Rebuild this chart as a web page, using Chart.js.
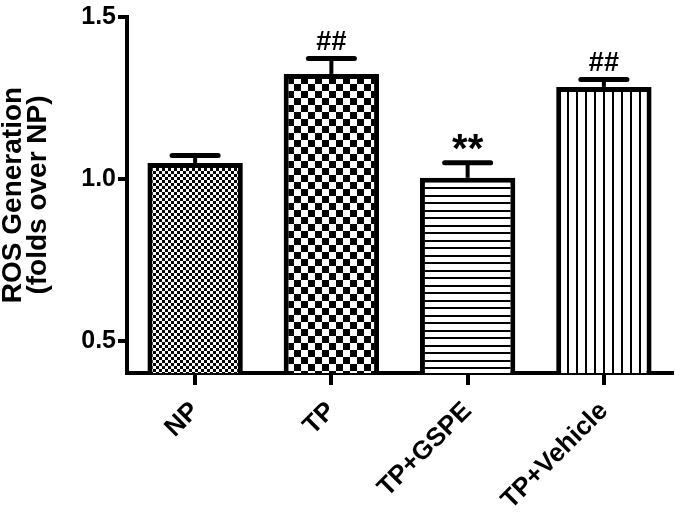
<!DOCTYPE html>
<html>
<head>
<meta charset="utf-8">
<script src="https://cdn.jsdelivr.net/npm/chart.js@4"></script>
<style>
html,body{margin:0;padding:0;background:#fff;}
#wrap{width:675px;height:513px;position:relative;}
</style>
</head>
<body>
<div id="wrap"><canvas id="c" width="675" height="513"></canvas></div>
<script>
const categories = ['NP', 'TP', 'TP+GSPE', 'TP+Vehicle'];
const values = [1.049, 1.324, 1.003, 1.284];
const errors = [0.023, 0.048, 0.047, 0.023];
const marks = ['', '##', '**', '##'];
const yTicks = [0.5, 1.0, 1.5];
const yTitle = ['ROS Generation', '(folds over NP)'];

const FONT = "'Liberation Sans', Arial, sans-serif";

function makePattern(type) {
  const c = document.createElement('canvas');
  const g = c.getContext('2d');
  if (type === 'fine') {
    c.width = 6; c.height = 6;
    g.fillStyle = '#fff'; g.fillRect(0, 0, 6, 6);
    g.fillStyle = '#000'; g.fillRect(0, 0, 3, 3); g.fillRect(3, 3, 3, 3);
  } else if (type === 'coarse') {
    c.width = 14; c.height = 14;
    g.fillStyle = '#fff'; g.fillRect(0, 0, 14, 14);
    g.fillStyle = '#000'; g.fillRect(0, 0, 7, 7); g.fillRect(7, 7, 7, 7);
  } else if (type === 'hlines') {
    c.width = 4; c.height = 15;
    g.fillStyle = '#fff'; g.fillRect(0, 0, 4, 15);
    g.fillStyle = '#000'; g.fillRect(0, 0, 4, 2); g.fillRect(0, 7, 4, 2);
  } else {
    c.width = 9; c.height = 4;
    g.fillStyle = '#fff'; g.fillRect(0, 0, 9, 4);
    g.fillStyle = '#000'; g.fillRect(0, 0, 2, 4);
  }
  return document.getElementById('c').getContext('2d').createPattern(c, 'repeat');
}
const fills = [makePattern('fine'), makePattern('coarse'), makePattern('hlines'), makePattern('vlines')];

const errorPlugin = {
  id: 'errs',
  afterDatasetsDraw(chart) {
    const ctx = chart.ctx;
    const meta = chart.getDatasetMeta(0);
    const y = chart.scales.y;
    ctx.save();
    ctx.strokeStyle = '#000';
    ctx.fillStyle = '#000';
    meta.data.forEach((bar, i) => {
      const top = y.getPixelForValue(values[i] + errors[i]);
      const base = y.getPixelForValue(values[i]);
      ctx.lineWidth = 4;
      ctx.lineCap = 'butt';
      ctx.beginPath(); ctx.moveTo(bar.x, base); ctx.lineTo(bar.x, top); ctx.stroke();
      ctx.lineWidth = 5;
      ctx.lineCap = 'round';
      ctx.beginPath(); ctx.moveTo(bar.x - 23, top); ctx.lineTo(bar.x + 23, top); ctx.stroke();
      if (marks[i]) {
        ctx.textAlign = 'center';
        ctx.textBaseline = 'alphabetic';
        if (marks[i] === '**') {
          ctx.font = 'bold 40px ' + FONT;
          ctx.fillText(marks[i], bar.x, top - 1);
        } else {
          ctx.font = 'bold 27px ' + FONT;
          ctx.fillText(marks[i], bar.x, top - 8);
        }
      }
    });
    ctx.restore();
  }
};

new Chart(document.getElementById('c'), {
  type: 'bar',
  data: {
    labels: categories,
    datasets: [{
      data: values,
      backgroundColor: fills,
      borderColor: '#000',
      borderWidth: 5,
      borderSkipped: 'start',
      barPercentage: 0.7,
      categoryPercentage: 1.0
    }]
  },
  options: {
    responsive: false,
    animation: false,
    devicePixelRatio: 1,
    layout: { padding: { top: 13, right: 3, left: 0, bottom: 0 } },
    plugins: { legend: { display: false }, tooltip: { enabled: false } },
    scales: {
      x: {
        grid: { display: true, drawOnChartArea: false, drawTicks: true, tickLength: 12, lineWidth: 4, color: '#000', offset: false },
        border: { display: true, width: 4, color: '#000' },
        ticks: { color: '#000', font: { family: FONT, size: 26, weight: 'bold' }, maxRotation: 45, minRotation: 45, padding: 11 },
        afterFit(scale) { scale.height = 140; }
      },
      y: {
        min: 0.4, max: 1.5,
        afterBuildTicks(scale) { scale.ticks = yTicks.map(v => ({ value: v })); },
        grid: { display: true, drawOnChartArea: false, drawTicks: true, tickLength: 9, lineWidth: 4, color: '#000' },
        border: { display: true, width: 4, color: '#000' },
        ticks: { color: '#000', font: { family: FONT, size: 25, weight: 'bold' }, padding: 2, callback: v => Number(v).toFixed(1) },
        title: { display: true, text: yTitle, color: '#000', font: { family: FONT, size: 28, weight: 'bold', lineHeight: 0.92 }, padding: { top: 0, bottom: 4 } },
        afterFit(scale) { scale.width = 127; }
      }
    }
  },
  plugins: [errorPlugin]
});
</script>
</body>
</html>
